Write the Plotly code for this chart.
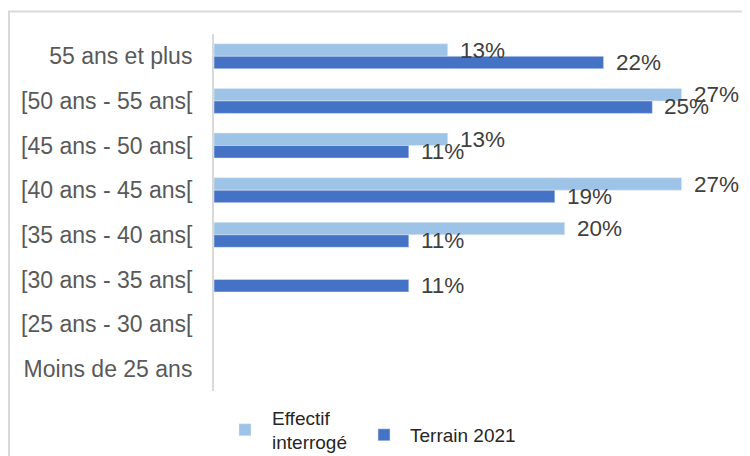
import plotly.graph_objects as go

CATEGORIES = [
    "55 ans et plus",
    "[50 ans - 55 ans[",
    "[45 ans - 50 ans[",
    "[40 ans - 45 ans[",
    "[35 ans - 40 ans[",
    "[30 ans - 35 ans[",
    "[25 ans - 30 ans[",
    "Moins de 25 ans",
]
EFFECTIF = [13.33, 26.67, 13.33, 26.67, 20.0, None, None, None]
TERRAIN = [22.22, 25.0, 11.11, 19.44, 11.11, 11.11, None, None]

LIGHT = "#9dc3e6"
DARK = "#4472c4"
FONT = "Liberation Sans, Arial, sans-serif"

fig = go.Figure()
fig.add_trace(
    go.Bar(
        y=CATEGORIES,
        x=EFFECTIF,
        orientation="h",
        name="Effectif<br>interrogé",
        marker=dict(color=LIGHT),
        hoverinfo="skip",
        legend="legend",
    )
)
fig.add_trace(
    go.Bar(
        y=CATEGORIES,
        x=TERRAIN,
        orientation="h",
        name="Terrain 2021",
        marker=dict(color=DARK),
        hoverinfo="skip",
        legend="legend2",
    )
)

# data labels, placed after the end of each bar
for values, shift in ((EFFECTIF, 6), (TERRAIN, -6)):
    for cat, v in zip(CATEGORIES, values):
        if v is None:
            continue
        fig.add_annotation(
            x=v,
            y=cat,
            text=f"{round(v)}%",
            showarrow=False,
            xanchor="left",
            xshift=10,
            yshift=shift,
            font=dict(family=FONT, size=22.5, color="#404040"),
        )

# outer frame
fig.add_shape(
    type="rect",
    xref="paper",
    yref="paper",
    x0=-0.3897,
    x1=1.2,
    y0=-0.4,
    y1=1.063,
    line=dict(color="#d9d9d9", width=2),
    layer="below",
)

legend_font = dict(family=FONT, size=19, color="#262626")

fig.update_layout(
    width=742,
    height=448,
    margin=dict(l=206, r=10, t=26, b=65, autoexpand=False),
    plot_bgcolor="white",
    paper_bgcolor="white",
    barmode="group",
    bargap=0.44,
    bargroupgap=0,
    font=dict(family=FONT, color="#595959"),
    xaxis=dict(visible=False, range=[0, 30], automargin=False),
    yaxis=dict(
        autorange="reversed",
        automargin=False,
        showline=True,
        linecolor="#d9d9d9",
        linewidth=2,
        ticks="",
        showgrid=False,
        ticklabelstandoff=15,
        tickfont=dict(family=FONT, size=23, color="#595959"),
    ),
    showlegend=True,
    legend=dict(
        x=0.0076,
        xanchor="left",
        yref="container",
        y=0.058,
        yanchor="middle",
        font=legend_font,
        itemwidth=44,
        bgcolor="rgba(0,0,0,0)",
    ),
    legend2=dict(
        x=0.2738,
        xanchor="left",
        yref="container",
        y=0.047,
        yanchor="middle",
        font=legend_font,
        itemwidth=42,
        bgcolor="rgba(0,0,0,0)",
    ),
)

fig.write_html("out.html")
